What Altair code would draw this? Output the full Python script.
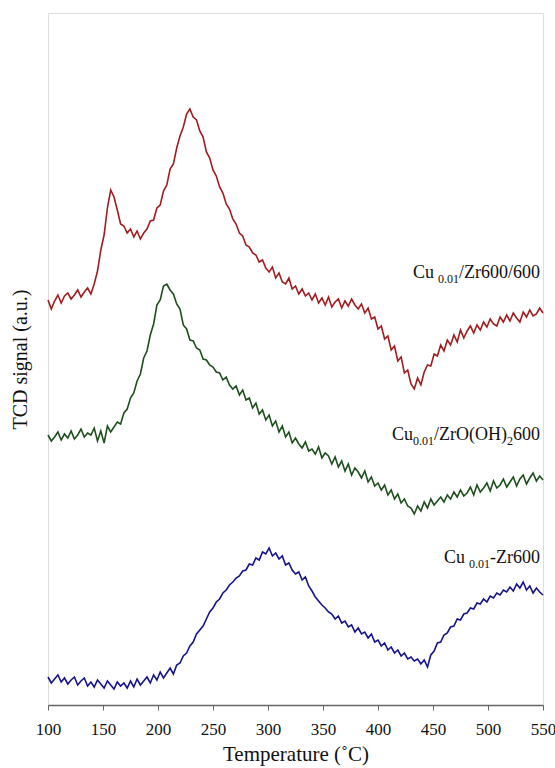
import altair as alt
import pandas as pd

# Temperature grid (°C), every 3 degrees from 100 to 550
temps = list(range(100, 551, 3))

# TCD signal (a.u.)
red_vals = [
    405, 396, 404, 410, 402, 409, 412, 406, 410, 415,
    408, 413, 417, 411, 421, 434, 455, 470, 497, 515,
    508, 495, 481, 479, 472, 476, 468, 474, 466, 472,
    476, 484, 485, 497, 500, 514, 520, 536, 541, 557,
    569, 578, 591, 596, 588, 585, 574, 568, 553, 547,
    535, 529, 518, 512, 501, 496, 486, 481, 472, 469,
    460, 458, 452, 450, 443, 445, 437, 433, 438, 427,
    432, 423, 421, 427, 416, 419, 411, 416, 409, 412,
    405, 411, 402, 407, 400, 408, 398, 403, 406, 397,
    404, 399, 406, 400, 396, 401, 392, 397, 386, 388,
    376, 379, 366, 369, 355, 359, 344, 348, 332, 335,
    321, 316, 327, 320, 333, 340, 339, 351, 349, 360,
    354, 365, 360, 370, 363, 375, 367, 374, 379, 372,
    380, 375, 383, 378, 386, 381, 379, 388, 383, 390,
    384, 392, 387, 383, 393, 388, 395, 389, 391, 397,
    392,
]
green_vals = [
    270, 264, 268, 273, 265, 271, 267, 274, 266, 270,
    276, 268, 272, 270, 277, 264, 274, 262, 279, 273,
    278, 283, 281, 292, 296, 307, 312, 324, 331, 347,
    354, 370, 381, 400, 405, 419, 421, 415, 411, 401,
    396, 380, 376, 365, 364, 357, 355, 346, 345, 340,
    338, 333, 332, 325, 328, 320, 316, 319, 310, 315,
    305, 307, 297, 302, 291, 295, 285, 290, 279, 284,
    273, 279, 268, 273, 262, 267, 261, 257, 263, 254,
    256, 251, 258, 247, 252, 249, 241, 248, 238, 244,
    234, 241, 230, 237, 233, 227, 234, 223, 228, 219,
    222, 215, 220, 210, 215, 206, 211, 202, 206, 199,
    197, 191, 199, 194, 203, 197, 206, 200, 204, 208,
    203, 210, 206, 213, 208, 215, 209, 212, 218, 210,
    220, 213, 217, 222, 214, 224, 217, 220, 226, 218,
    223, 228, 219, 226, 230, 221, 227, 232, 224, 229,
    225,
]
blue_vals = [
    28, 22, 26, 30, 23, 27, 21, 25, 28, 20,
    24, 27, 19, 23, 18, 25, 21, 17, 24, 20,
    16, 23, 19, 22, 17, 24, 18, 26, 20, 24,
    28, 22, 30, 25, 33, 27, 32, 37, 31, 40,
    42, 49, 52, 59, 63, 71, 75, 79, 86, 93,
    97, 103, 106, 112, 115, 120, 123, 127, 129, 134,
    135, 141, 140, 147, 145, 153, 151, 157, 149, 152,
    146, 149, 140, 142, 135, 131, 133, 125, 128, 119,
    114, 108, 104, 100, 97, 93, 91, 86, 89, 82,
    84, 78, 80, 73, 77, 71, 73, 67, 71, 63,
    65, 59, 62, 55, 58, 52, 55, 49, 52, 46,
    48, 44, 46, 41, 45, 38, 50, 54, 62, 63,
    70, 72, 78, 79, 86, 85, 91, 92, 97, 96,
    102, 101, 106, 103, 109, 107, 112, 110, 115, 113,
    118, 114, 121, 117, 123, 115, 119, 112, 117, 113,
    110,
]

series_names = ["Cu0.01/Zr600/600", "Cu0.01/ZrO(OH)2600", "Cu0.01-Zr600"]
series_colors = ["#a11c1e", "#1c4f1c", "#14148a"]

# Label pieces (main text and subscripts)
label_text = ["Cu", "0.01", "/Zr600/600",
              "Cu", "0.01", "/ZrO(OH)", "2", "600",
              "Cu", "0.01", "-Zr600"]
label_is_sub = [False, True, False,
                False, True, False, True, False,
                False, True, False]
# anchor (right edge) of each piece in data units
label_t = [450.9, 473.6, 547.3,
           431.8, 450.9, 517.3, 522.7, 547.3,
           479.1, 501.8, 547.3]
label_s = [427, 422, 427,
           265, 260, 265, 260, 265,
           142, 137, 142]

rows = []
for name, vals in zip(series_names, [red_vals, green_vals, blue_vals]):
    for t, v in zip(temps, vals):
        rows.append({"T": t, "signal": v, "series": name})
df = pd.DataFrame(rows)

lab = pd.DataFrame({
    "T": label_t,
    "signal": label_s,
    "text": label_text,
    "fs": [12 if s else 18 for s in label_is_sub],
})

FONT = "Liberation Serif"

x_enc = alt.X(
    "T:Q",
    scale=alt.Scale(domain=[100, 550], nice=False, zero=False),
    axis=alt.Axis(
        values=list(range(100, 551, 50)),
        title="Temperature (˚C)",
        grid=False,
        tickSize=5,
        tickColor="#666666",
        domainColor="#666666",
        domainWidth=1.5,
        labelFont=FONT,
        labelFontSize=17,
        labelColor="#111111",
        labelPadding=11,
        labelFlush=False,
        labelOverlap=False,
        titleFont=FONT,
        titleFontSize=21,
        titleFontWeight="normal",
        titleColor="#111111",
        titlePadding=6,
    ),
)
y_enc = alt.Y(
    "signal:Q",
    scale=alt.Scale(domain=[0, 692], nice=False, zero=False),
    axis=alt.Axis(
        title="TCD signal (a.u.)",
        grid=False,
        ticks=False,
        labels=False,
        domain=False,
        titleFont=FONT,
        titleFontSize=20,
        titleFontWeight="normal",
        titleColor="#111111",
        titlePadding=18,
    ),
)

lines = alt.Chart(df).mark_line(strokeWidth=1.6, interpolate="linear").encode(
    x=x_enc,
    y=y_enc,
    color=alt.Color("series:N",
                    scale=alt.Scale(domain=series_names, range=series_colors),
                    legend=None),
    detail="series:N",
)

texts = alt.Chart(lab).mark_text(
    align="right", baseline="alphabetic", font=FONT, color="#111111"
).encode(
    x=alt.X("T:Q"),
    y=alt.Y("signal:Q"),
    text="text:N",
    size=alt.Size("fs:Q", scale=None),
)

chart = alt.layer(lines, texts).properties(
    width=495,
    height=692,
    autosize=alt.AutoSizeParams(type="none"),
    padding={"left": 48, "top": 13, "right": 12, "bottom": 63},
).configure_view(
    stroke="#7a7a7a",
    strokeWidth=1.5,
).configure_axis(
    labelFont=FONT,
    titleFont=FONT,
).configure(background="white")

chart.save("out.html", embed_options={"renderer": "svg", "actions": False})
